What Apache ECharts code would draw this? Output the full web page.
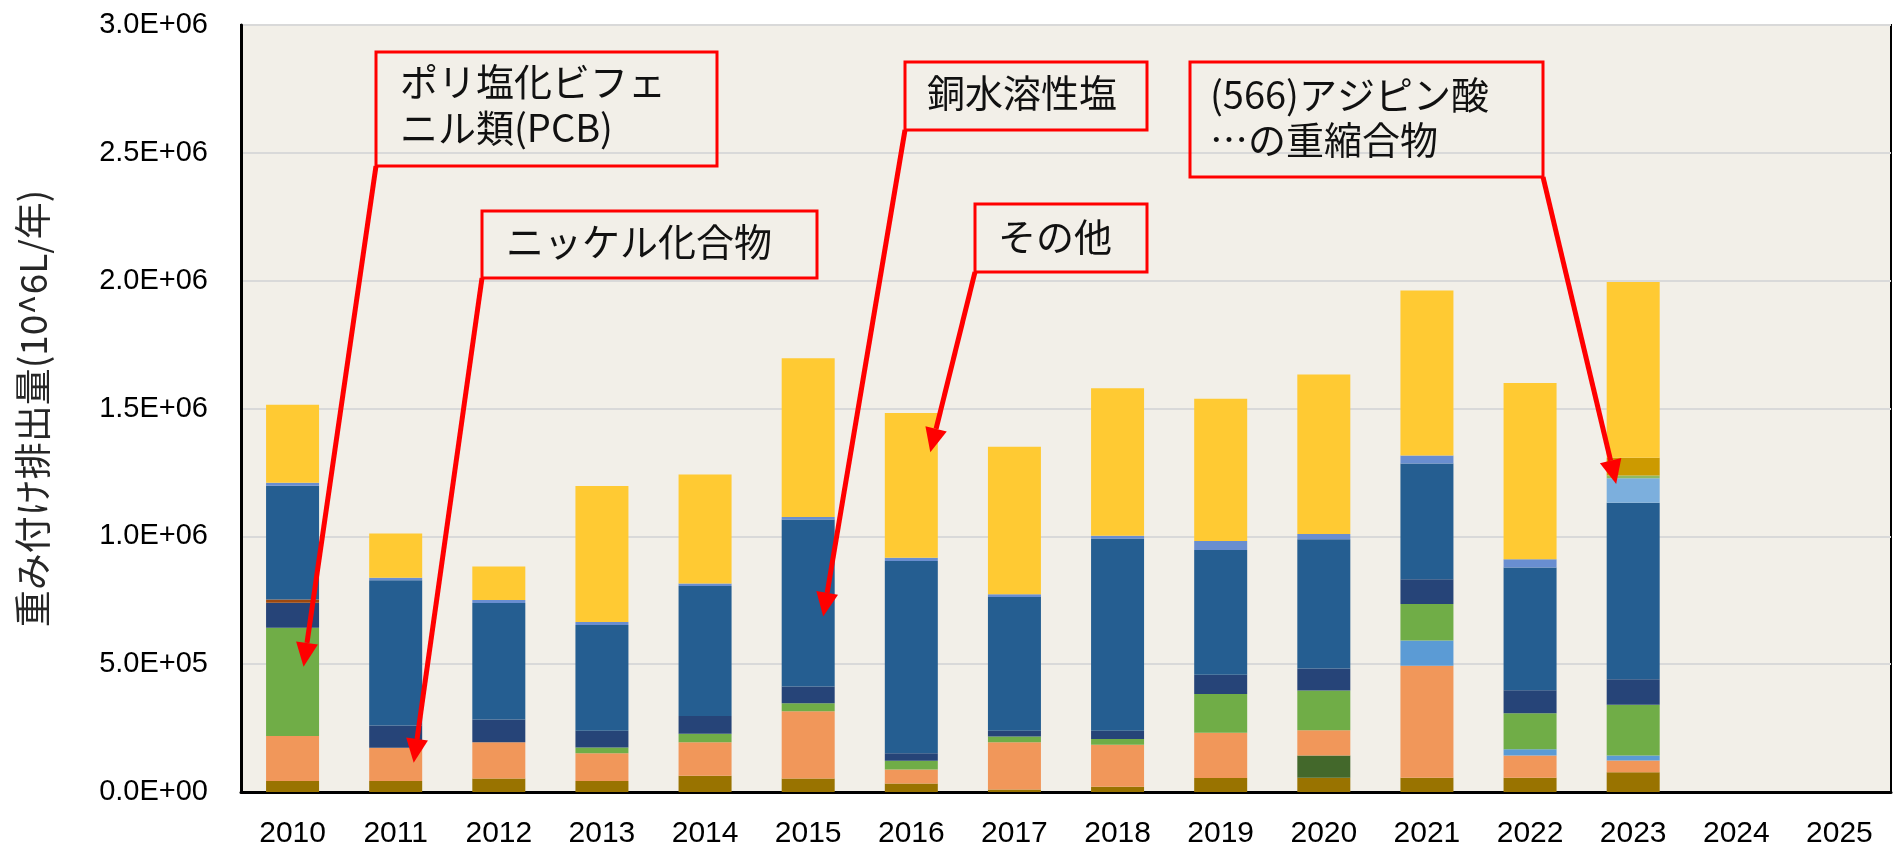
<!DOCTYPE html>
<html>
<head>
<meta charset="utf-8">
<script src="https://cdn.jsdelivr.net/npm/echarts@6/dist/echarts.min.js"></script>
<style>
  html, body { margin: 0; padding: 0; background: #fff; }
  #chart { width: 1893px; height: 850px; }
</style>
</head>
<body>
<div id="chart"></div>
<script>
const years = ['2010', '2011', '2012', '2013', '2014', '2015', '2016', '2017', '2018', '2019', '2020', '2021', '2022', '2023', '2024', '2025']

// stacked layers, bottom to top (10^6L/年)
const olive = [43000, 43000, 53000, 43000, 64000, 53000, 33000, 10000, 21000, 55000, 56000, 56000, 56000, 77000]
const darkGreen = [0, 0, 0, 0, 0, 0, 0, 0, 0, 0, 87000, 0, 0, 0]
const nickel = [176000, 130000, 142000, 109000, 131000, 263000, 55000, 185000, 164000, 177000, 99000, 438000, 87000, 46000]
const skyBlue = [0, 0, 0, 0, 0, 0, 0, 0, 0, 0, 0, 99000, 24000, 20000]
const pcb = [423000, 0, 0, 22000, 33000, 31000, 34000, 22000, 22000, 151000, 155000, 142000, 141000, 198000]
const navy = [98000, 87000, 89000, 66000, 69000, 66000, 30000, 23000, 33000, 76000, 86000, 97000, 90000, 100000]
const rust = [13000, 0, 0, 0, 0, 0, 0, 0, 0, 0, 0, 0, 0, 0]
const copper = [445000, 568000, 455000, 413000, 509000, 653000, 752000, 523000, 752000, 488000, 506000, 453000, 480000, 690000]
const adipic = [0, 0, 0, 0, 0, 0, 0, 0, 0, 0, 0, 0, 0, 96000]
const paleGreen = [0, 0, 0, 0, 0, 0, 0, 0, 0, 0, 0, 0, 0, 11000]
const gold = [0, 0, 0, 0, 0, 0, 0, 0, 0, 0, 0, 0, 0, 69000]
const periwinkle = [12000, 10000, 12000, 12000, 10000, 10000, 12000, 10000, 10000, 35000, 20000, 31000, 32000, 0]
const others = [305000, 173000, 131000, 532000, 426000, 621000, 566000, 577000, 577000, 556000, 624000, 646000, 690000, 688000]

// callouts: label lines, target year, target value
const notes = [
  { lines: ['ポリ塩化ビフェ', 'ニル類(PCB)'], year: '2010', value: 490000 },
  { lines: ['ニッケル化合物'], year: '2011', value: 114000 },
  { lines: ['銅水溶性塩'], year: '2015', value: 686000 },
  { lines: ['その他'], year: '2016', value: 1329000 },
  { lines: ['(566)アジピン酸', '…の重縮合物'], year: '2023', value: 1205000 }
]

const layers = [
  { name: '物質A', data: olive, color: '#997300' },
  { name: '物質B', data: darkGreen, color: '#43682B' },
  { name: 'ニッケル化合物', data: nickel, color: '#F1975A' },
  { name: '物質C', data: skyBlue, color: '#5B9BD5' },
  { name: 'ポリ塩化ビフェニル類(PCB)', data: pcb, color: '#70AD47' },
  { name: '物質D', data: navy, color: '#264478' },
  { name: '物質E', data: rust, color: '#9E480E' },
  { name: '銅水溶性塩', data: copper, color: '#255E91' },
  { name: '(566)アジピン酸…の重縮合物', data: adipic, color: '#7CAFDD' },
  { name: '物質F', data: paleGreen, color: '#8FBA62' },
  { name: '物質G', data: gold, color: '#CC9A00' },
  { name: '物質H', data: periwinkle, color: '#698ED0' },
  { name: 'その他', data: others, color: '#FFCA33' }
]

const jpFont = '"Noto Sans CJK JP", sans-serif'
const numFont = '"Liberation Sans", sans-serif'

const formatSci = (v) => {
  const [m, e] = v.toExponential(1).split('e')
  const sign = e[0] === '-' ? '-' : '+'
  const digits = e.replace(/[+-]/, '').padStart(2, '0')
  return m + 'E' + sign + digits
}

const chart = echarts.init(document.getElementById('chart'))

const option = {
  animation: false,
  backgroundColor: '#ffffff',
  grid: {
    left: 241,
    right: 2,
    top: 25,
    bottom: 58,
    show: true,
    backgroundColor: '#F2EFE8',
    borderColor: '#000000',
    borderWidth: 2
  },
  xAxis: {
    type: 'category',
    data: years,
    axisTick: { show: false },
    axisLine: { lineStyle: { color: '#000000', width: 3 } },
    axisLabel: {
      color: '#000000',
      fontSize: 30,
      fontFamily: numFont,
      margin: 27
    }
  },
  yAxis: {
    type: 'value',
    min: 0,
    max: 3000000,
    interval: 500000,
    name: '重み付け排出量(10^6L/年)',
    nameLocation: 'middle',
    nameGap: 190,
    nameTextStyle: {
      color: '#262626',
      fontSize: 37,
      fontFamily: jpFont
    },
    axisLine: { show: true, lineStyle: { color: '#000000', width: 3 } },
    axisTick: { show: false },
    splitLine: { lineStyle: { color: '#D9D9D9', width: 2 } },
    axisLabel: {
      color: '#000000',
      fontSize: 29,
      fontFamily: numFont,
      margin: 33,
      formatter: formatSci
    }
  },
  series: layers.map((l) => ({
    name: l.name,
    type: 'bar',
    stack: 'total',
    barWidth: 53,
    data: l.data,
    itemStyle: { color: l.color }
  }))
}

chart.setOption(option)

// boxes drawn in pixel space, arrows end on the data point
const boxes = [
  { x: 376, y: 52, w: 341, h: 114, tx: 400, ty: [82, 128], from: 'bl', dx: 11 },
  { x: 482, y: 211, w: 335, h: 67, tx: 506, ty: [242], from: 'bl', dx: 18 },
  { x: 905, y: 62, w: 242, h: 68, tx: 927, ty: [93], from: 'bl', dx: 15 },
  { x: 975, y: 204, w: 172, h: 68, tx: 998, ty: [237], from: 'bl', dx: 19 },
  { x: 1190, y: 62, w: 353, h: 115, tx: 1210, ty: [95, 140], from: 'br', dx: -17 }
]

const graphics = []
notes.forEach((n, i) => {
  const b = boxes[i]
  graphics.push({
    type: 'rect',
    shape: { x: b.x, y: b.y, width: b.w, height: b.h },
    style: { fill: null, stroke: '#FF0000', lineWidth: 3 },
    z: 100
  })
  n.lines.forEach((t, j) => {
    graphics.push({
      type: 'text',
      x: b.tx,
      y: b.ty[j],
      style: {
        text: t,
        font: '38px ' + jpFont,
        fill: '#111111',
        verticalAlign: 'middle'
      },
      z: 100
    })
  })

  const tip = chart.convertToPixel({ xAxisIndex: 0, yAxisIndex: 0 }, [years.indexOf(n.year), n.value])
  const tx = tip[0] + b.dx
  const ty = tip[1]
  const sx = b.from === 'bl' ? b.x : b.x + b.w
  const sy = b.y + b.h
  const len = Math.hypot(tx - sx, ty - sy)
  const ux = (tx - sx) / len
  const uy = (ty - sy) / len
  const headLen = 24
  const headHalf = 11
  const bx = tx - ux * headLen
  const by = ty - uy * headLen
  graphics.push({
    type: 'line',
    shape: { x1: sx, y1: sy, x2: bx, y2: by },
    style: { stroke: '#FF0000', lineWidth: 5 },
    z: 100
  })
  graphics.push({
    type: 'polygon',
    shape: {
      points: [
        [tx, ty],
        [bx - uy * headHalf, by + ux * headHalf],
        [bx + uy * headHalf, by - ux * headHalf]
      ]
    },
    style: { fill: '#FF0000' },
    z: 100
  })
})

chart.setOption({ graphic: graphics })
</script>
</body>
</html>
